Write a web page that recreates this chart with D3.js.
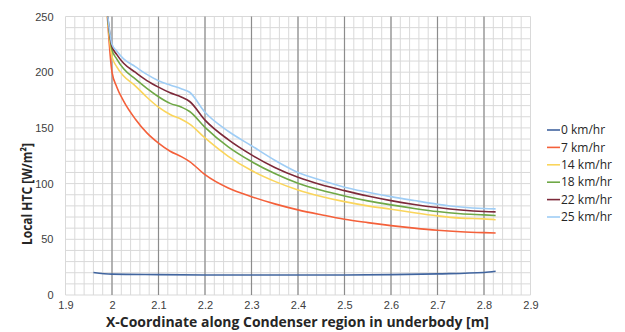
<!DOCTYPE html>
<html>
<head>
<meta charset="utf-8">
<script src="https://cdn.jsdelivr.net/npm/d3@7"></script>
<style>
  body { margin: 0; background: #fff; }
  svg { font-family: "Open Sans", "Liberation Sans", sans-serif; }
</style>
</head>
<body>
<div id="chart"></div>
<script>
// x positions along the condenser [m]
var xZero = [1.96, 2.0, 2.1, 2.2, 2.3, 2.4, 2.5, 2.6, 2.7, 2.8, 2.825];
var xMoving = [1.985, 2.0, 2.01, 2.025, 2.05, 2.075, 2.1, 2.125, 2.15, 2.167, 2.2, 2.25, 2.3, 2.35, 2.4,
               2.45, 2.5, 2.55, 2.6, 2.65, 2.7, 2.75, 2.8, 2.825];

// local HTC values [W/m2]
var htc0  = [20.2, 18.7, 18.3, 18.0, 17.9, 17.9, 18.0, 18.3, 19.0, 20.2, 21.3];
var htc7  = [285, 200, 187, 174, 158, 145.5, 136.3, 129, 124, 119.8, 108, 96, 88.3, 81.8, 76.4,
             72, 68, 65, 62.3, 60, 58.1, 56.8, 56, 55.7];
var htc14 = [275, 214, 205, 196.5, 187.8, 177.5, 168.6, 162, 157.5, 153.4, 141, 124.5, 111.7, 102, 94.3,
             88.5, 83.8, 80, 77, 73.8, 71, 69, 68.3, 67.5];
var htc18 = [275, 220, 212, 203, 194, 185.5, 178, 172, 168.5, 164.7, 150.5, 133, 119.8, 109, 100.3,
             94, 88.9, 84.5, 80.9, 77.7, 74.9, 73, 71.9, 71.3];
var htc22 = [275, 223, 216, 208, 200, 192.5, 186.6, 181.5, 177.5, 173.7, 157, 139.5, 125.8, 114.5, 105.7,
             99, 93.7, 88.8, 84.7, 81.3, 78.5, 76.3, 74.9, 74.6];
var htc25 = [275, 225, 219, 212, 205, 198, 192.3, 188.5, 185, 182, 164, 147, 134, 121, 110,
             103, 96.8, 92.3, 88.3, 84.8, 81.5, 79, 77.6, 77.3];

var seriesNames = ["0 km/hr", "7 km/hr", "14 km/hr", "18 km/hr", "22 km/hr", "25 km/hr"];
var seriesColors = ["#41659f", "#f4603a", "#fad55c", "#6fa846", "#7d2a3a", "#9fcdf5"];

var xTicks = [1.9, 2.0, 2.1, 2.2, 2.3, 2.4, 2.5, 2.6, 2.7, 2.8, 2.9];
var yTicks = [0, 50, 100, 150, 200, 250];

var series = [
    { name: seriesNames[0], xs: xZero, ys: htc0 },
    { name: seriesNames[1], xs: xMoving, ys: htc7 },
    { name: seriesNames[2], xs: xMoving, ys: htc14 },
    { name: seriesNames[3], xs: xMoving, ys: htc18 },
    { name: seriesNames[4], xs: xMoving, ys: htc22 },
    { name: seriesNames[5], xs: xMoving, ys: htc25 }
];

var width = 625, height = 332;
var margin = {top: 16.5, right: 94.5, bottom: 37, left: 65.5};
var innerWidth = width - margin.left - margin.right;
var innerHeight = height - margin.top - margin.bottom;

var svg = d3.select("#chart").append("svg")
    .attr("width", width)
    .attr("height", height);

var xScale = d3.scaleLinear().domain([1.9, 2.9]).range([0, innerWidth]);
var yScale = d3.scaleLinear().domain([0, 250]).range([innerHeight, 0]);

var g = svg.append("g")
    .attr("transform", "translate(" + margin.left + "," + margin.top + ")");

// minor grid
var minorX = d3.range(0, 51).map(function(i) { return 1.9 + i * 0.02; });
var minorY = d3.range(0, 26).map(function(i) { return i * 10; });

g.append("g").selectAll("line").data(minorY).enter().append("line")
    .attr("x1", 0).attr("x2", innerWidth)
    .attr("y1", function(d) { return yScale(d); })
    .attr("y2", function(d) { return yScale(d); })
    .attr("stroke", "#d9d9d9").attr("stroke-width", 1);

g.append("g").selectAll("line").data(minorX).enter().append("line")
    .attr("y1", 0).attr("y2", innerHeight)
    .attr("x1", function(d) { return xScale(d); })
    .attr("x2", function(d) { return xScale(d); })
    .attr("stroke", "#d9d9d9").attr("stroke-width", 1);

// major vertical grid
g.append("g").selectAll("line").data(xTicks.slice(1, -1)).enter().append("line")
    .attr("y1", 0).attr("y2", innerHeight)
    .attr("x1", function(d) { return xScale(d); })
    .attr("x2", function(d) { return xScale(d); })
    .attr("stroke", "#8c8c8c").attr("stroke-width", 1.2);

// axes (labels only)
var xAxis = g.append("g")
    .attr("transform", "translate(0," + innerHeight + ")")
    .call(d3.axisBottom(xScale).tickValues(xTicks).tickSize(0).tickPadding(6)
        .tickFormat(function(d) { return d3.format("")(+d.toFixed(1)); }));
var yAxis = g.append("g")
    .call(d3.axisLeft(yScale).tickValues(yTicks).tickSize(0).tickPadding(12));
[xAxis, yAxis].forEach(function(a) {
    a.select(".domain").remove();
    a.selectAll("text").attr("fill", "#404040").attr("font-size", "11px");
});

// lines
g.append("clipPath").attr("id", "clip")
    .append("rect").attr("width", innerWidth).attr("height", innerHeight);

var line = d3.line()
    .x(function(d) { return xScale(d[0]); })
    .y(function(d) { return yScale(d[1]); })
    .curve(d3.curveMonotoneX);

g.append("g").attr("clip-path", "url(#clip)")
    .selectAll("path").data(series).enter().append("path")
    .attr("d", function(s) { return line(s.xs.map(function(x, i) { return [x, s.ys[i]]; })); })
    .attr("fill", "none")
    .attr("stroke", function(s, i) { return seriesColors[i]; })
    .attr("stroke-width", 1.6);

// legend
var legend = svg.append("g").attr("transform", "translate(547,130)");
var items = legend.selectAll("g").data(seriesNames).enter().append("g")
    .attr("transform", function(d, i) { return "translate(0," + (i * 17.4) + ")"; });
items.append("line")
    .attr("x1", 0).attr("x2", 13)
    .attr("stroke", function(d, i) { return seriesColors[i]; })
    .attr("stroke-width", 1.6);
items.append("text")
    .attr("x", 14).attr("dy", "0.35em")
    .attr("font-size", "12px").attr("fill", "#262626")
    .text(function(d) { return d; });

// titles
svg.append("text")
    .attr("x", 106).attr("y", 327)
    .attr("textLength", 383).attr("lengthAdjust", "spacingAndGlyphs")
    .attr("font-size", "14px").attr("font-weight", "bold").attr("fill", "#262626")
    .text("X-Coordinate along Condenser region in underbody [m]");

svg.append("text")
    .attr("transform", "translate(32,245) rotate(-90)")
    .attr("textLength", 102).attr("lengthAdjust", "spacingAndGlyphs")
    .attr("font-size", "14px").attr("font-weight", "bold").attr("fill", "#262626")
    .text("Local HTC [W/m²]");
</script>
</body>
</html>
